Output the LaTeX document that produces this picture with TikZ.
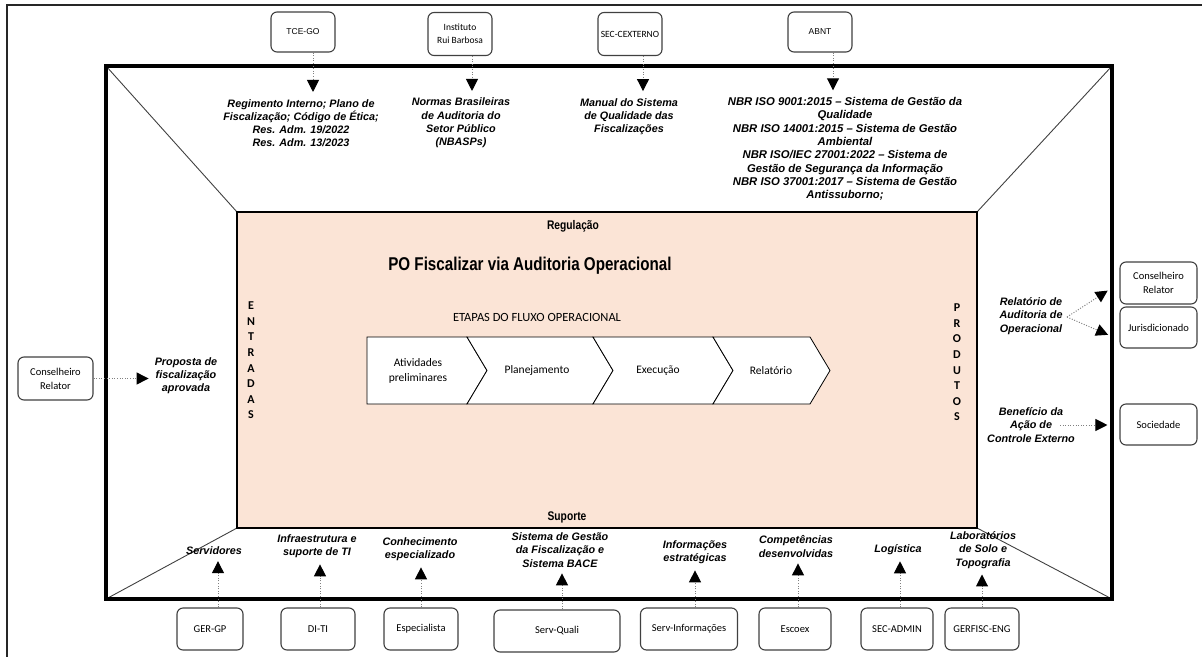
\documentclass[tikz,border=0pt]{standalone}
\usepackage{fontspec}
\setmainfont{Liberation Sans}
\newfontfamily\calfont{Carlito}
\newfontfamily\narrowfont[FakeStretch=0.82]{Liberation Sans}
\usetikzlibrary{arrows.meta}
\definecolor{peach}{HTML}{FBE4D6}
\definecolor{lineg}{HTML}{404040}
\tikzset{
  box/.style={draw=lineg, rounded corners=6pt, line width=1.1pt, fill=white, align=center,
    font=\calfont\fontsize{10.5}{14}\selectfont, minimum width=64pt, minimum height=42pt, inner sep=1pt},
  tbox/.style={box, font=\calfont\fontsize{9.5}{13}\selectfont},
  abox/.style={box, font=\fontsize{8.5}{11}\selectfont},
  it/.style={font=\bfseries\itshape\fontsize{10.8}{13.2}\selectfont, align=center, inner sep=0pt},
  vert/.style={font=\calfont\bfseries\fontsize{12}{15.6}\selectfont, align=center, inner sep=0pt},
  chev/.style={font=\calfont\fontsize{11.5}{15}\selectfont, align=center, inner sep=0pt},
  chevshape/.style={draw=black, fill=white, line width=0.8pt, line join=miter},
  dotarr/.style={draw=gray, line width=1pt, dash pattern=on 1pt off 1.6pt,
    -{Triangle[length=12pt,width=12pt,color=black,fill=black]}},
  diag/.style={draw=lineg, line width=0.9pt},
}
\begin{document}
\begin{tikzpicture}[x=1pt,y=-1pt]
\useasboundingbox (0,0) rectangle (1202,656);
% outer frame
\draw[line width=2.5pt, black!85] (7,700) -- (7,5) -- (1260,5);
% diagonals
\draw[diag] (106,66) -- (237,212);
\draw[diag] (1112,66) -- (977,212);
\draw[diag] (106,599) -- (237,528);
\draw[diag] (1112,599) -- (977,528);
% middle frame
\draw[line width=3.5pt] (106,66) rectangle (1112,599);
% inner
\draw[line width=2.5pt, fill=peach] (237,212) rectangle (977,528);

% inner texts
\node[font=\narrowfont\bfseries\fontsize{12.5}{14}\selectfont] (regul) at (573,226) {Regulação};
\node[font=\narrowfont\bfseries\fontsize{18.5}{22}\selectfont] (title) at (530,266) {PO Fiscalizar via Auditoria Operacional};
\node[font=\calfont\fontsize{12.5}{15}\selectfont] (etapas) at (537,317) {ETAPAS DO FLUXO OPERACIONAL};
\node[font=\narrowfont\bfseries\fontsize{12.5}{14}\selectfont] (suporte) at (567,517) {Suporte};
\node[vert] (ent) at (251,360.5) {E\\N\\T\\R\\A\\D\\A\\S};
\node[vert] (prod) at (957,362.5) {P\\R\\O\\D\\U\\T\\O\\S};

% chevrons
\draw[chevshape] (367,337) -- (467,337) -- (487,370.5) -- (467,404) -- (367,404) -- cycle;
\draw[chevshape] (467,337) -- (593,337) -- (613,370.5) -- (593,404) -- (467,404) -- (487,370.5) -- cycle;
\draw[chevshape] (593,337) -- (713,337) -- (733,370.5) -- (713,404) -- (593,404) -- (613,370.5) -- cycle;
\draw[chevshape] (713,337) -- (810,337) -- (830,370.5) -- (810,404) -- (713,404) -- (733,370.5) -- cycle;
\node[chev] (c1) at (418,370.5) {Atividades\\preliminares};
\node[chev] (c2) at (537,370.5) {Planejamento};
\node[chev] (c3) at (658,370.5) {Execução};
\node[chev] (c4) at (771,370.5) {Relatório};

% top boxes and texts
\node[abox, minimum width=64pt, minimum height=40pt] (tce) at (303,32) {TCE-GO};
\node[tbox, minimum width=64pt, minimum height=43pt] (irb) at (460,34) {Instituto\\Rui Barbosa};
\node[tbox, minimum width=64pt, minimum height=43pt] (sec) at (630,34) {SEC-CEXTERNO};
\node[abox, minimum width=64pt, minimum height=40pt] (abnt) at (820,32) {ABNT};

\node[it] (regim) at (301,123) {Regimento Interno; Plano de\\Fiscalização; Código de Ética;\\Res. Adm. 19/2022\\Res. Adm. 13/2023};
\node[it] (normas) at (461,123) {Normas Brasileiras\\de Auditoria do\\Setor Público\\(NBASPs)};
\node[it] (manual) at (629,116.5) {Manual do Sistema\\de Qualidade das\\Fiscalizações};
\node[it, font=\bfseries\itshape\fontsize{11.3}{13.3}\selectfont] (isos) at (845,149) {NBR ISO 9001:2015 – Sistema de Gestão da\\Qualidade\\NBR ISO 14001:2015 – Sistema de Gestão\\Ambiental\\NBR ISO/IEC 27001:2022 – Sistema de\\Gestão de Segurança da Informação\\NBR ISO 37001:2017 – Sistema de Gestão\\Antissuborno;};

\draw[dotarr, shorten >=7pt] ([xshift=10pt]tce.south) -- ([xshift=10pt]tce.south |- regim.north);
\draw[dotarr, shorten >=7pt] ([xshift=12pt]irb.south) -- ([xshift=12pt]irb.south |- normas.north);
\draw[dotarr, shorten >=7pt] ([xshift=13pt]sec.south) -- ([xshift=13pt]sec.south |- manual.north);
\draw[dotarr, shorten >=7pt] ([xshift=13pt]abnt.south) -- ([xshift=13pt]abnt.south |- isos.north);

% left side
\node[box, minimum width=75pt, minimum height=43pt] (crl) at (55.5,378.5) {Conselheiro\\Relator};
\node[it] (prop) at (186,376) {Proposta de\\fiscalização\\aprovada};
\draw[dotarr, shorten >=6pt] (crl.east) -- (prop.west |- crl.east);

% right side
\node[box, minimum width=77pt, minimum height=42pt] (crr) at (1158.5,283) {Conselheiro\\Relator};
\node[box, minimum width=77pt, minimum height=41pt] (jur) at (1158.5,327.5) {Jurisdicionado};
\node[box, minimum width=77pt, minimum height=41pt] (soc) at (1158.5,424.5) {Sociedade};
\node[it] (relat) at (1031,316) {Relatório de\\Auditoria de\\Operacional};
\node[it] (benef) at (1031,425) {Benefício da\\Ação de\\Controle Externo};
\coordinate (relsrc) at (1067,317);
\coordinate (jurin) at (1120,340);
\coordinate (bensrc) at (1060,425);
\draw[dotarr, shorten >=14pt] (relsrc) -- (crr.west);
\draw[dotarr, shorten >=13pt] (relsrc) -- (jurin);
\draw[dotarr, shorten >=12pt] (bensrc) -- (soc.west |- bensrc);

% bottom boxes
\node[box, minimum width=66pt] (gergp) at (210,629) {GER-GP};
\node[box, minimum width=74pt] (diti) at (318,629) {DI-TI};
\node[box, minimum width=74pt] (esp) at (421,629) {Especialista};
\node[box, minimum width=126pt, minimum height=42pt] (quali) at (557,631) {Serv-Quali};
\node[box, minimum width=97pt] (info) at (689,629) {Serv-Informações};
\node[box, minimum width=72pt] (escoex) at (795,629) {Escoex};
\node[box, minimum width=72pt] (secadm) at (897,629) {SEC-ADMIN};
\node[box, minimum width=74pt] (gerfisc) at (982,629) {GERFISC-ENG};

% bottom texts
\node[it] (serv) at (214,551) {Servidores};
\node[it] (infra) at (317,546.5) {Infraestrutura e\\suporte de TI};
\node[it] (conh) at (420,549.5) {Conhecimento\\especializado};
\node[it] (sgf) at (560,550) {Sistema de Gestão\\da Fiscalização e\\Sistema BACE};
\node[it] (infoe) at (695,552.5) {Informações\\estratégicas};
\node[it] (comp) at (796,546.5) {Competências\\desenvolvidas};
\node[it] (logi) at (898,550) {Logística};
\node[it] (labs) at (983,550) {Laboratórios\\de Solo e\\Topografia};

\draw[dotarr, shorten >=6pt] ([xshift=8pt]gergp.north) -- ([xshift=8pt]gergp.north |- serv.south);
\draw[dotarr, shorten >=6pt] ([xshift=2pt]diti.north) -- ([xshift=2pt]diti.north |- infra.south);
\draw[dotarr, shorten >=6pt] (esp.north) -- (esp.north |- conh.south);
\draw[dotarr, shorten >=6pt] ([xshift=5pt]quali.north) -- ([xshift=5pt]quali.north |- sgf.south);
\draw[dotarr, shorten >=6pt] ([xshift=6pt]info.north) -- ([xshift=6pt]info.north |- infoe.south);
\draw[dotarr, shorten >=6pt] ([xshift=3pt]escoex.north) -- ([xshift=3pt]escoex.north |- comp.south);
\draw[dotarr, shorten >=6pt] ([xshift=3pt]secadm.north) -- ([xshift=3pt]secadm.north |- logi.south);
\draw[dotarr, shorten >=6pt] (gerfisc.north) -- (gerfisc.north |- labs.south);
\end{tikzpicture}
\end{document}
